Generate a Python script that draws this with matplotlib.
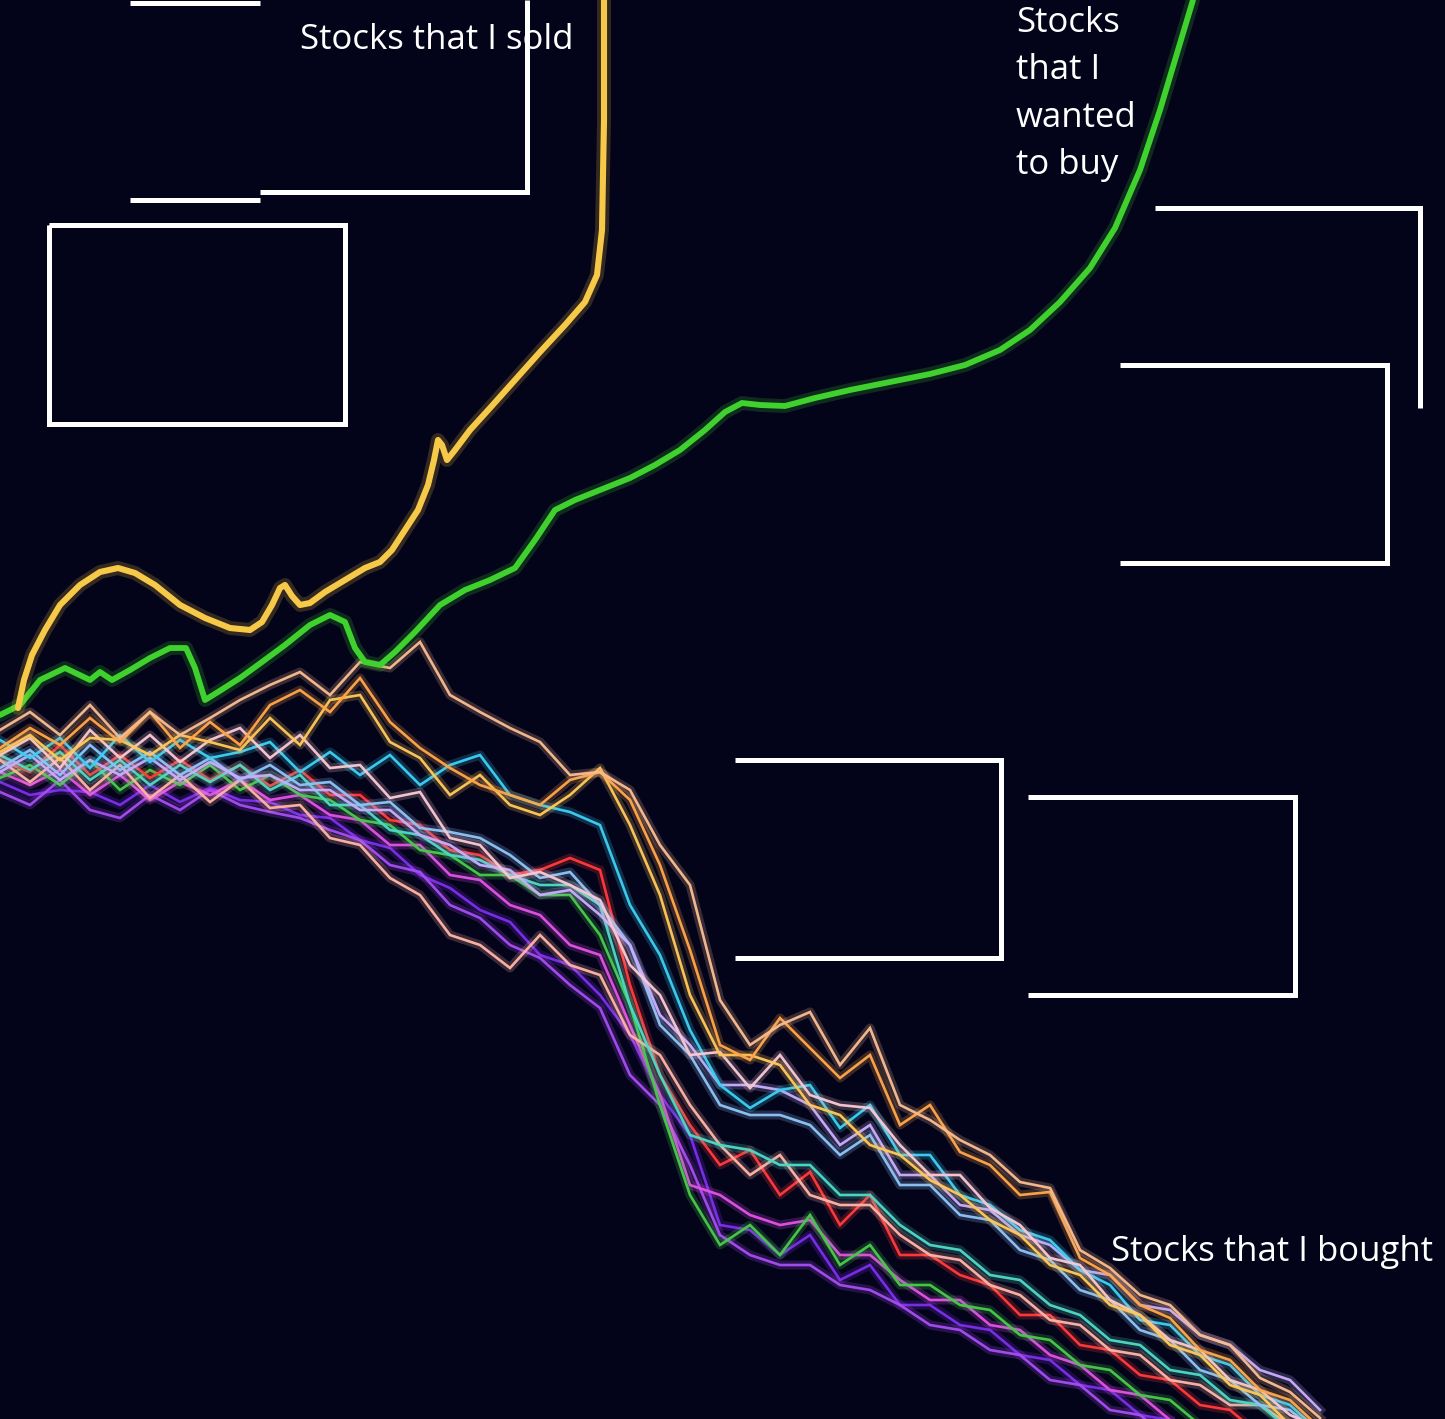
import matplotlib
matplotlib.use("Agg")
import matplotlib.pyplot as plt

# ---------------- data ----------------
# "Stocks that I sold" (yellow) – x, y in chart units (y grows downward)
sold_x = [18, 24, 32, 45, 60, 80, 100, 118, 135, 155, 180, 205, 230, 250, 262, 272, 280, 285, 292, 300, 310, 325, 345, 365, 380, 392, 405, 418, 428, 434, 438, 442, 447, 455, 470, 490, 515, 540, 565, 585, 597, 602, 604, 604]
sold_y = [708, 680, 655, 630, 605, 585, 572, 568, 573, 585, 605, 618, 628, 630, 622, 605, 588, 585, 596, 605, 603, 592, 580, 568, 562, 550, 530, 510, 485, 460, 440, 445, 460, 450, 430, 408, 380, 352, 325, 302, 275, 230, 120, 0]

# "Stocks that I wanted to buy" (green)
want_x = [0, 20, 40, 65, 90, 100, 112, 130, 150, 170, 186, 195, 205, 218, 240, 262, 285, 310, 330, 345, 355, 365, 380, 395, 415, 440, 465, 490, 515, 535, 555, 575, 600, 630, 655, 680, 705, 725, 742, 760, 785, 815, 850, 890, 930, 965, 1000, 1030, 1060, 1090, 1115, 1140, 1160, 1175, 1187, 1193]
want_y = [715, 705, 680, 668, 680, 672, 680, 670, 658, 648, 648, 668, 700, 692, 678, 662, 645, 625, 615, 622, 648, 662, 665, 652, 632, 605, 590, 580, 568, 540, 510, 500, 490, 478, 465, 450, 430, 412, 403, 405, 406, 398, 390, 382, 374, 365, 350, 330, 302, 268, 228, 170, 110, 60, 20, 0]

# "Stocks that I bought" – shared x grid, one series per stock
bought_x = list(range(0, 1350, 30))

bought_peach = [730, 712, 735, 705, 738, 712, 735, 718, 700, 685, 672, 695, 662, 668, 642, 695, 712, 728, 742, 775, 772, 790, 845, 885, 1000, 1045, 1025, 1012, 1065, 1028, 1105, 1120, 1140, 1155, 1182, 1188, 1250, 1268, 1295, 1305, 1335, 1345, 1378, 1392, 1418]
bought_orange = [748, 728, 745, 718, 742, 712, 748, 722, 745, 705, 690, 712, 678, 722, 748, 768, 785, 795, 805, 780, 772, 800, 865, 950, 1045, 1060, 1018, 1048, 1078, 1055, 1125, 1105, 1152, 1165, 1195, 1192, 1258, 1275, 1305, 1318, 1350, 1360, 1390, 1400, 1428]
bought_pink = [755, 738, 768, 730, 758, 735, 762, 740, 728, 758, 735, 768, 765, 798, 792, 838, 845, 878, 872, 885, 900, 965, 995, 1055, 1052, 1088, 1055, 1095, 1105, 1108, 1145, 1175, 1175, 1208, 1225, 1258, 1265, 1300, 1315, 1340, 1350, 1380, 1390, 1415, 1428]
bought_cyan = [740, 758, 738, 768, 735, 762, 740, 758, 752, 742, 772, 752, 775, 755, 785, 765, 755, 795, 805, 812, 825, 905, 955, 1030, 1085, 1108, 1090, 1085, 1128, 1105, 1155, 1155, 1195, 1205, 1230, 1240, 1270, 1285, 1320, 1325, 1355, 1365, 1395, 1405, 1432]
bought_skyblue = [768, 750, 775, 745, 770, 752, 775, 758, 780, 765, 785, 782, 805, 802, 828, 832, 838, 855, 878, 872, 905, 945, 1025, 1055, 1105, 1115, 1115, 1125, 1155, 1135, 1185, 1185, 1215, 1220, 1250, 1260, 1290, 1300, 1330, 1340, 1370, 1380, 1405, 1410, 1435]
bought_red = [760, 772, 745, 775, 755, 778, 760, 780, 765, 786, 770, 795, 795, 820, 825, 850, 855, 875, 870, 858, 870, 985, 1075, 1125, 1165, 1150, 1195, 1172, 1225, 1195, 1255, 1255, 1275, 1285, 1315, 1315, 1345, 1350, 1375, 1380, 1405, 1410, 1435, 1440, 1455]
bought_green = [778, 765, 785, 760, 790, 770, 785, 765, 790, 775, 795, 800, 820, 825, 850, 855, 875, 875, 895, 895, 935, 1005, 1105, 1195, 1245, 1225, 1255, 1215, 1265, 1245, 1285, 1285, 1305, 1310, 1335, 1340, 1365, 1370, 1395, 1400, 1425, 1430, 1455, 1460, 1475]
bought_purple = [792, 805, 780, 810, 818, 795, 810, 790, 805, 812, 818, 830, 840, 865, 872, 905, 918, 945, 958, 985, 1008, 1075, 1105, 1165, 1235, 1255, 1265, 1265, 1285, 1290, 1305, 1325, 1330, 1350, 1355, 1380, 1385, 1410, 1415, 1440, 1445, 1465, 1470, 1485, 1490]
bought_violet = [782, 795, 790, 792, 805, 785, 802, 788, 800, 802, 815, 818, 840, 848, 875, 888, 910, 922, 955, 965, 995, 1035, 1095, 1135, 1225, 1230, 1255, 1235, 1280, 1265, 1305, 1305, 1325, 1330, 1355, 1360, 1385, 1390, 1415, 1420, 1445, 1450, 1465, 1470, 1485]
bought_magenta = [772, 785, 770, 795, 775, 800, 782, 795, 780, 800, 795, 815, 820, 845, 845, 875, 880, 905, 915, 945, 955, 1025, 1095, 1185, 1195, 1215, 1225, 1220, 1255, 1255, 1280, 1300, 1300, 1325, 1330, 1355, 1365, 1390, 1395, 1420, 1425, 1445, 1450, 1465, 1470]
bought_salmon = [760, 782, 758, 790, 765, 798, 775, 802, 780, 808, 805, 838, 845, 878, 895, 935, 945, 968, 935, 965, 975, 1035, 1055, 1105, 1145, 1175, 1155, 1195, 1205, 1205, 1235, 1255, 1260, 1285, 1295, 1320, 1325, 1350, 1355, 1380, 1385, 1405, 1405, 1425, 1425]
bought_lavender = [772, 755, 780, 760, 775, 758, 780, 762, 778, 775, 790, 790, 810, 810, 835, 845, 865, 870, 895, 890, 915, 945, 1015, 1045, 1085, 1085, 1090, 1105, 1145, 1125, 1175, 1175, 1205, 1210, 1235, 1245, 1270, 1275, 1305, 1310, 1335, 1345, 1370, 1380, 1410]
bought_gold = [752, 735, 760, 738, 740, 755, 735, 742, 750, 718, 745, 700, 695, 742, 758, 795, 775, 805, 815, 795, 768, 825, 895, 995, 1055, 1055, 1065, 1105, 1115, 1145, 1155, 1180, 1195, 1220, 1235, 1265, 1275, 1305, 1315, 1345, 1355, 1385, 1395, 1425, 1435]
bought_teal = [755, 770, 752, 780, 760, 785, 765, 782, 765, 790, 775, 805, 805, 830, 835, 855, 860, 875, 885, 885, 905, 1005, 1075, 1135, 1145, 1150, 1165, 1165, 1195, 1195, 1225, 1245, 1250, 1275, 1280, 1305, 1315, 1340, 1345, 1370, 1375, 1400, 1405, 1430, 1435]

bought_series = [
    (bought_violet, "#7b2fe8"),
    (bought_purple, "#a64cf2"),
    (bought_magenta, "#e052e6"),
    (bought_green, "#48c94a"),
    (bought_red, "#ff3a3a"),
    (bought_salmon, "#ffb4a6"),
    (bought_teal, "#4fd8c4"),
    (bought_skyblue, "#8ec4f6"),
    (bought_lavender, "#c7aefc"),
    (bought_cyan, "#3ccff2"),
    (bought_pink, "#f9c8d4"),
    (bought_gold, "#ffc85a"),
    (bought_orange, "#ffa64a"),
    (bought_peach, "#f8bc90"),
]

# white bracket / box outlines (decoration)
boxes = [
    ([130, 260], [3, 3]),
    ([130, 260], [200, 200]),
    ([260, 527, 527], [192, 192, 0]),
    ([49, 345, 345, 49, 49], [225, 225, 424, 424, 225]),
    ([1155, 1420, 1420], [208, 208, 408]),
    ([1120, 1387, 1387, 1120], [365, 365, 563, 563]),
    ([735, 1001, 1001, 735], [760, 760, 958, 958]),
    ([1028, 1295, 1295, 1028], [797, 797, 995, 995]),
]

# ---------------- drawing ----------------
BG = "#03031a"
W, H = 1445, 1419
fig = plt.figure(figsize=(W / 100, H / 100), dpi=100, facecolor=BG)
ax = fig.add_axes([0, 0, 1, 1])
ax.set_facecolor(BG)
ax.set_xlim(0, W)
ax.set_ylim(H, 0)
ax.axis("off")

for ys, col in bought_series:
    ax.plot(bought_x, ys, color=col, lw=6.5, alpha=0.22, solid_joinstyle="round")
    ax.plot(bought_x, ys, color=col, lw=1.9, alpha=0.97, solid_joinstyle="miter")

ax.plot(want_x, want_y, color="#3ccf2c", lw=10, alpha=0.2, solid_joinstyle="round", solid_capstyle="round")
ax.plot(want_x, want_y, color="#3fd22e", lw=4.2, solid_joinstyle="round", solid_capstyle="round")
ax.plot(sold_x, sold_y, color="#f5c542", lw=10, alpha=0.2, solid_joinstyle="round", solid_capstyle="round")
ax.plot(sold_x, sold_y, color="#f7c948", lw=4.4, solid_joinstyle="round", solid_capstyle="round")

for bx, by in boxes:
    ax.plot(bx, by, color="white", lw=3.6, solid_joinstyle="miter", solid_capstyle="butt")

font = "Open Sans"
ax.text(300, 40, "Stocks that I sold", color="white", fontsize=25, family=font,
        ha="left", va="center")
ax.text(1016, 94, "Stocks\nthat I\nwanted\nto buy", color="white", fontsize=25,
        family=font, ha="left", va="center", linespacing=1.52)
ax.text(1111, 1252, "Stocks that I bought", color="white", fontsize=25, family=font,
        ha="left", va="center")

fig.savefig("out.png", dpi=100, facecolor=BG)
